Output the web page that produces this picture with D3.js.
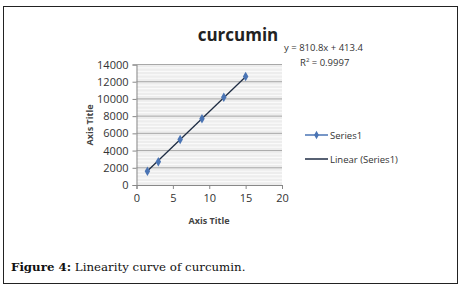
<!DOCTYPE html>
<html>
<head>
<meta charset="utf-8">
<script src="https://cdn.jsdelivr.net/npm/d3@7"></script>
<style>
  body { margin: 0; background: #fff; }
  text { font-family: "Open Sans", "DejaVu Sans", sans-serif; }
</style>
</head>
<body>
<script>
// data
const xValues = [1.5, 3, 6, 9, 12, 15];
const yValues = [1600, 2700, 5300, 7700, 10200, 12600];
const xTicks = [0, 5, 10, 15, 20];
const yTicks = [0, 2000, 4000, 6000, 8000, 10000, 12000, 14000];
const slope = 810.8;
const intercept = 413.4;
const legendLabels = ['Series1', 'Linear (Series1)'];

const svg = d3.select('body').append('svg')
    .attr('width', 469)
    .attr('height', 292);

// outer frame
svg.append('rect')
    .attr('x', 3.5).attr('y', 6.5)
    .attr('width', 454).attr('height', 277)
    .attr('fill', 'none')
    .attr('stroke', '#222')
    .attr('stroke-width', 1);

const x = d3.scaleLinear().domain([0, 20]).range([136.5, 282]);
const y = d3.scaleLinear().domain([0, 14000]).range([185, 64.5]);

const g = svg.append('g');

// plot background and gridlines
g.append('rect')
    .attr('x', x(0)).attr('y', y(14000))
    .attr('width', x(20) - x(0)).attr('height', y(0) - y(14000))
    .attr('fill', '#ededed');

const minor = d3.range(0, 14001, 400).filter(v => v % 2000 !== 0);
g.selectAll('.minor').data(minor).enter().append('line')
    .attr('x1', x(0)).attr('x2', x(20))
    .attr('y1', d => y(d)).attr('y2', d => y(d))
    .attr('stroke', '#fafafa').attr('stroke-width', 1.2);

g.selectAll('.major').data(yTicks.slice(1)).enter().append('line')
    .attr('x1', x(0)).attr('x2', x(20))
    .attr('y1', d => y(d)).attr('y2', d => y(d))
    .attr('stroke', '#a8a8a8').attr('stroke-width', 1);

// axes
const xAxis = g.append('g')
    .attr('transform', `translate(0,${y(0)})`)
    .call(d3.axisBottom(x).tickValues(xTicks).tickSize(4).tickPadding(5));
const yAxis = g.append('g')
    .attr('transform', `translate(${x(0)},0)`)
    .call(d3.axisLeft(y).tickValues(yTicks).tickSize(4).tickPadding(4).tickFormat(d3.format('d')));

[xAxis, yAxis].forEach(a => {
    a.selectAll('.domain').attr('stroke', '#888');
    a.selectAll('.tick line').attr('stroke', '#888');
    a.selectAll('text').attr('font-size', 11).attr('fill', '#333');
});

// trendline
g.append('line')
    .attr('x1', x(xValues[0])).attr('y1', y(slope * xValues[0] + intercept))
    .attr('x2', x(xValues[xValues.length - 1])).attr('y2', y(slope * xValues[xValues.length - 1] + intercept))
    .attr('stroke', '#1f2d44').attr('stroke-width', 1.3);

// points
g.selectAll('.pt').data(xValues).enter().append('path')
    .attr('transform', (d, i) => `translate(${x(d)},${y(yValues[i])})`)
    .attr('d', d3.symbol(d3.symbolDiamond, 26))
    .attr('fill', '#4a74b4');

// titles
svg.append('text')
    .attr('x', 238).attr('y', 41)
    .attr('text-anchor', 'middle')
    .attr('font-size', 17).attr('font-weight', 'bold')
    .attr('fill', '#222')
    .text('curcumin');

svg.append('text')
    .attr('x', 209).attr('y', 224)
    .attr('text-anchor', 'middle')
    .attr('font-size', 9).attr('font-weight', 'bold')
    .attr('fill', '#444')
    .text('Axis Title');

svg.append('text')
    .attr('transform', 'translate(93,125) rotate(-90)')
    .attr('text-anchor', 'middle')
    .attr('font-size', 9).attr('font-weight', 'bold')
    .attr('fill', '#444')
    .text('Axis Title');

// equation
svg.append('text')
    .attr('x', 284).attr('y', 51)
    .attr('font-size', 9.5).attr('fill', '#333')
    .text('y = 810.8x + 413.4');
const r2 = svg.append('text')
    .attr('x', 300).attr('y', 66)
    .attr('font-size', 9.5).attr('fill', '#333');
r2.append('tspan').text('R');
r2.append('tspan').attr('dy', -4).attr('font-size', 6).text('2');
r2.append('tspan').attr('dy', 4).text(' = 0.9997');

// legend
const legend = svg.append('g')
    .selectAll('g')
    .data(legendLabels)
    .enter()
    .append('g')
    .attr('transform', (d, i) => `translate(305, ${135 + i * 24})`);

legend.append('line')
    .attr('x1', 0).attr('x2', 23)
    .attr('stroke', (d, i) => i === 0 ? '#4a74b4' : '#1f2d44')
    .attr('stroke-width', 1.5);
legend.filter((d, i) => i === 0).append('path')
    .attr('transform', 'translate(11.5,0)')
    .attr('d', d3.symbol(d3.symbolDiamond, 20))
    .attr('fill', '#4a74b4');
legend.append('text')
    .attr('x', 25).attr('y', 3.5)
    .attr('font-size', 9.5).attr('fill', '#333')
    .text(d => d);

// caption
const cap = svg.append('text')
    .attr('x', 11).attr('y', 271)
    .attr('font-size', 11.8)
    .attr('fill', '#111')
    .style('font-family', '"DejaVu Serif", "Liberation Serif", serif');
cap.append('tspan').attr('font-weight', 'bold').text('Figure 4:');
cap.append('tspan').text(' Linearity curve of curcumin.');
</script>
</body>
</html>
